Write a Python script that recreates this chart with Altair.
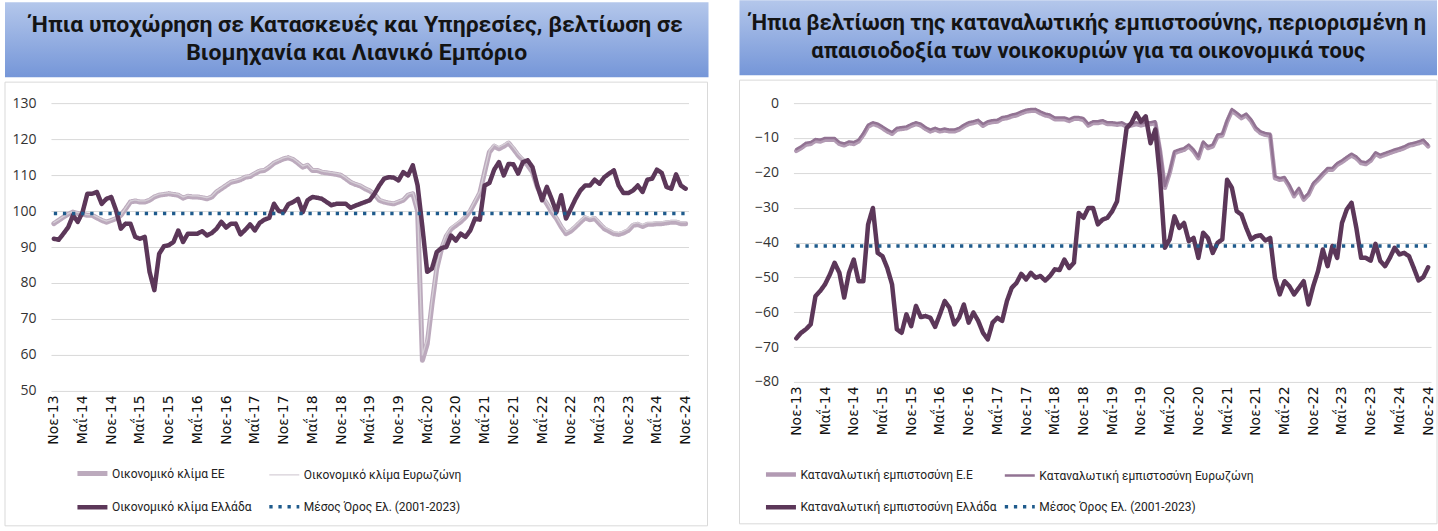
import json
import altair as alt
import pandas as pd

# ---------------- data ----------------
MONTH_TICKS = ["Νοε-13", "Μαΐ-14", "Νοε-14", "Μαΐ-15", "Νοε-15", "Μαΐ-16", "Νοε-16", "Μαΐ-17",
               "Νοε-17", "Μαΐ-18", "Νοε-18", "Μαΐ-19", "Νοε-19", "Μαΐ-20", "Νοε-20", "Μαΐ-21",
               "Νοε-21", "Μαΐ-22", "Νοε-22", "Μαΐ-23", "Νοε-23", "Μαΐ-24", "Νοε-24"]

LEFT_TITLE = ["Ήπια υποχώρηση σε Κατασκευές και Υπηρεσίες, βελτίωση σε",
              "Βιομηχανία και Λιανικό Εμπόριο"]
RIGHT_TITLE = ["Ήπια βελτίωση της καταναλωτικής εμπιστοσύνης, περιορισμένη η",
               "απαισιοδοξία των νοικοκυριών για τα οικονομικά τους"]

LEFT_NAMES = ["Οικονομικό κλίμα ΕΕ", "Οικονομικό κλίμα Ευρωζώνη",
              "Οικονομικό κλίμα Ελλάδα", "Μέσος Όρος Ελ. (2001-2023)"]
RIGHT_NAMES = ["Καταναλωτική εμπιστοσύνη Ε.Ε", "Καταναλωτική εμπιστοσύνη Ευρωζώνη",
               "Καταναλωτική εμπιστοσύνη Ελλάδα", "Μέσος Όρος Ελ. (2001-2023)"]

ESI_EU = [96.5, 97.4, 98.3, 99.1, 99.7, 99.3, 99.1, 98.8, 98.8, 98.1, 97.4, 96.9, 97.4, 97.9, 98.8, 100.6,
          102.5, 102.8, 102.5, 102.5, 103, 103.9, 104.4, 104.6, 104.8, 104.6, 104.4, 103.6, 104.1, 103.9,
          103.9, 103.7, 103.4, 103.9, 105.3, 106.2, 107.1, 108, 108.3, 108.7, 109.4, 109.6, 110.4, 111.1,
          111.3, 112.2, 113.3, 113.9, 114.5, 114.8, 114.3, 113.3, 112.2, 112.7, 111.3, 111.3, 110.8, 110.6,
          110.4, 110.2, 109.9, 109, 108, 107.4,
          107, 106.2, 105.6, 104.6, 103, 102.5, 102.2, 102, 102.5, 103, 104.4, 104.8, 100, 58.5, 63, 74, 84,
          89.5, 93, 95, 96, 97, 98.3, 100, 102.5, 105, 110.8, 116.4, 118, 117.3, 118, 118.9, 117.3, 115.5,
          114.1, 112.7, 110.8, 106.7, 103.9, 102, 99.7, 97.9, 95.6, 93.7, 94.4, 95.6, 96.9, 98.1, 97.6, 97.9,
          96.5, 95.1, 94.4, 93.7, 93.5, 93.9, 94.6, 96, 96.3, 95.7, 96.3, 96.3, 96.5, 96.5, 96.7, 96.9, 96.9,
          96.5, 96.5]
ESI_EZ = [96.8, 97.6, 98.5, 99.3, 99.9, 99.6, 99.3, 99.0, 99.0, 98.4, 97.7, 97.2, 97.6, 98.2, 99.0, 100.9,
          102.8, 103.1, 102.8, 102.8, 103.3, 104.2, 104.7, 104.9, 105.1, 104.9, 104.7, 103.9, 104.4, 104.2,
          104.2, 104.0, 103.7, 104.2, 105.6, 106.5, 107.4, 108.3, 108.6, 109.0, 109.7, 109.9, 110.7, 111.4,
          111.6, 112.5, 113.6, 114.2, 114.8, 115.1, 114.6, 113.6, 112.5, 113.0, 111.6, 111.6, 111.1, 110.9,
          110.7, 110.5, 110.2, 109.3, 108.3, 107.7,
          107.3, 106.5, 105.9, 104.9, 103.3, 102.8, 102.5, 102.3, 102.8, 103.3, 104.7, 105.1, 100.5, 60.0,
          64.5, 75.5, 85.0, 90.3, 93.6, 95.5, 96.5, 97.5, 98.8, 100.5, 103.0, 105.5, 111.3, 116.9, 118.5,
          117.8, 118.5, 119.3, 117.8, 116.0, 114.6, 113.2, 111.3, 107.2, 104.4, 102.5, 100.2, 98.4, 96.1,
          94.2, 94.9, 96.1, 97.4, 98.6, 98.1, 98.4, 97.0, 95.6, 94.9, 94.2, 94.0, 94.4, 95.1, 96.5, 96.8,
          96.2, 96.8, 96.8, 97.0, 97.0, 97.2, 97.4, 97.4, 97.0, 97.0]
ESI_GR = [92.3, 92, 93.7, 95.5, 98.8, 97, 99.7, 104.8, 104.8, 105.3, 102, 103.4, 103.9, 100.2, 95.1, 96.5,
          96.5, 92.8, 92.3, 92.8, 83.1, 78, 88.1, 90.2, 90.5, 91.4, 94.6, 91.4, 93.7, 93.7, 93.7, 94.4, 93.2,
          93.9, 95.1, 97, 95.4, 96.5, 96.5, 93.5, 94.8, 96.3, 94.6, 96.7, 97.6, 98.1, 102, 100, 99.7, 101.9,
          102.5, 103.4, 99.7, 103, 103.9, 103.7, 103.4, 102.5, 101.6, 102, 102, 102, 100.9, 101.5, 102,
          102.5, 103, 104.8, 107.1, 109, 109.4, 109.3, 108.5, 110.8, 109.9, 112.7, 107.1, 95.6, 83.1, 84,
          88.6, 89.7, 90, 93.2, 91.8, 93.7, 92.8, 94.6, 97.9, 97.6, 107.1, 107.8, 111.5, 113.6, 109.9, 113.1,
          113, 110.4, 113.6, 114.1, 112.2, 107.1, 103, 106.7, 103.4, 99.7, 104.4, 97.9, 100.6, 103.4, 105.7,
          107.1, 107.1, 108.7, 107.6, 109.4, 110.4, 111.3, 107.1, 105, 105, 105.7, 107.1, 105.3, 108.7, 109,
          111.5, 110.6, 106.7, 106.2, 110.2, 107.1, 106.2]
ESI_AVG = 99.3

CC_EU = [-13.7, -12.9, -11.9, -11.7, -10.8, -11, -10.5, -10.5, -10.5, -11.7, -12.1, -11.5, -11.7, -11, -9.1,
         -6.7, -6, -6.4, -7.2, -8.1, -8.8, -7.6, -7.4, -7.2, -6.5, -6, -6.4, -7.4, -8.1, -7.6, -8.1, -7.8,
         -8.1, -8.1, -7.6, -6.7, -6, -5.7, -5.3, -6.5, -5.7, -5.4, -5.3, -4.5, -4.3, -3.8, -3.5, -2.9, -2.4,
         -2.2, -2.2, -2.9, -3.5, -3.8, -4.6, -4.6, -4.6, -5.1, -4.5, -4.5,
         -4.8, -6.4, -5.7, -5.7, -5.4, -6, -6, -6.2, -6, -6.7, -6.4, -6, -6.4, -6, -6, -5.7, -13.8, -24.3,
         -20, -14.3, -13.8, -13.4, -12.4, -13.8, -15.8, -11.5, -12.9, -12.4, -9.5, -9.3, -5.3, -2.2, -3.2,
         -4.3, -3.5, -5.1, -7.4, -8.6, -9.1, -9.3, -21.5, -22, -21.7, -23.9, -26.7, -24.8, -27.7, -26.3,
         -23.4, -22, -20.5, -19.1, -19.1, -17.7, -16.9, -15.9, -15, -15.8, -17.2, -17.5, -16.5, -14.6,
         -15.3, -14.8, -14.3, -13.8, -13.4, -12.9, -12.2, -11.9, -11.5, -11, -12.4]
CC_EZ = [-13.2, -12.4, -11.4, -11.2, -10.3, -10.5, -10.0, -10.0, -10.0, -11.2, -11.6, -11.0, -11.2, -10.5,
         -8.6, -6.2, -5.5, -5.9, -6.7, -7.6, -8.3, -7.1, -6.9, -6.7, -6.0, -5.5, -5.9, -6.9, -7.6, -7.1,
         -7.6, -7.3, -7.6, -7.6, -7.1, -6.2, -5.5, -5.2, -4.8, -6.0, -5.2, -4.9, -4.8, -4.0, -3.8, -3.3,
         -3.0, -2.4, -1.9, -1.7, -1.7, -2.4, -3.0, -3.3, -4.1, -4.1, -4.1, -4.6, -4.0, -4.0,
         -4.3, -5.9, -5.2, -5.2, -4.9, -5.5, -5.5, -5.7, -5.5, -6.2, -5.9, -5.5, -5.9, -5.5, -5.5, -5.2,
         -13.3, -23.8, -19.5, -13.8, -13.3, -12.9, -11.9, -13.3, -15.3, -11.0, -12.4, -11.9, -9.0, -8.8,
         -4.8, -1.7, -2.7, -3.8, -3.0, -4.6, -6.9, -8.1, -8.6, -8.8, -21.0, -21.5, -21.2, -23.4, -26.2,
         -24.3, -27.2, -25.8, -22.9, -21.5, -20.0, -18.6, -18.6, -17.2, -16.4, -15.4, -14.5, -15.3, -16.7,
         -17.0, -16.0, -14.1, -14.8, -14.3, -13.8, -13.3, -12.9, -12.4, -11.7, -11.4, -11.0, -10.5, -11.9]
CC_GR = [-67.5, -65.9, -64.9, -63.5, -55.4, -53.9, -52, -49.2, -45.8, -48.7, -55.8, -48.7, -44.9, -51.1,
         -51.1, -34.8, -30.1, -43, -43.9, -47.3, -52, -64.9, -65.9, -60.6, -64, -58.2, -61.4, -61.1, -61.6,
         -64.2, -60.6, -56.8, -58.7, -63.5, -61.6, -57.8, -63, -60.1, -62.5, -65.9, -67.8, -63, -61.6,
         -62.5, -56.8, -53, -51.6, -49, -50.6, -48.7, -50.1, -49.6, -50.9, -49.6, -47.7, -47.9, -44.9,
         -47.3, -45.8, -31.5,
         -32.9, -30.1, -30.1, -34.8, -33.4, -32.9, -31, -28.2, -17.7, -7.2, -5.7, -2.9, -5.3, -3.8, -11.5,
         -7.6, -21.5, -41.5, -39.1, -32.5, -35.8, -34.4, -39.6, -38.7, -44.4, -37.2, -38.7, -43, -40.1,
         -39.1, -22, -24.3, -31, -32, -35.8, -39.1, -38.2, -37.9, -39.4, -38.7, -50.1, -54.9, -51.1, -52.5,
         -54.9, -53, -51.1, -57.8, -52.5, -48.2, -42, -46.8, -41, -44.4, -34.4, -30.5, -28.6, -35.8, -44.4,
         -44.4, -45.2, -40.4, -45.3, -46.8, -44.4, -41.5, -43.4, -43, -43.9, -47.3, -50.9, -49.9, -47.1]
CC_AVG = -41.0

N = len(ESI_GR)
LABEL_EXPR = json.dumps(MONTH_TICKS, ensure_ascii=False) + "[round(datum.value / 6)]"

TITLE_FONT = "Roboto"
TEXT_FONT = "Roboto"


def panel(names, series, avg, colors, widths, ydomain, ystep, W, H,
          banner, box, title, title_size, title_y, legend_x, legend_y, col_pad):
    rows = []
    for name, vals in zip(names[:3], series):
        for i, v in enumerate(vals):
            rows.append({"i": i, "v": v, "s": name})
    for i in range(N):
        rows.append({"i": i, "v": avg, "s": names[3]})
    df = pd.DataFrame(rows)

    legend = alt.Legend(title=None, orient="none", legendX=legend_x, legendY=legend_y,
                        direction="horizontal", columns=2, symbolType="stroke", symbolSize=900,
                        padding=0, labelFont=TEXT_FONT, labelFontSize=12, labelColor="#222222",
                        labelLimit=400, labelOffset=2, columnPadding=col_pad, rowPadding=6)
    dashes = [[1, 0], [1, 0], [1, 0], [3.3, 5.8]]
    enc = dict(
        x=alt.X("i:Q", scale=alt.Scale(domain=[-0.6, N - 1 + 0.6], nice=False, zero=False),
                axis=alt.Axis(values=list(range(0, N, 6)), labelExpr=LABEL_EXPR, labelAngle=270,
                              title=None, grid=False, domain=False, ticks=False, labelPadding=4,
                              labelFont="DejaVu Sans", labelFontSize=14, labelColor="#111111")),
        y=alt.Y("v:Q", scale=alt.Scale(domain=ydomain, nice=False, zero=False),
                axis=alt.Axis(values=list(range(ydomain[0], ydomain[1] + 1, ystep)), title=None,
                              grid=True, gridColor="#d9d9d9", domain=False, ticks=False,
                              labelPadding=15, labelFont="Open Sans", labelFontSize=14,
                              labelColor="#333333")),
        color=alt.Color("s:N", scale=alt.Scale(domain=names, range=colors), legend=legend),
        strokeWidth=alt.StrokeWidth("s:N", scale=alt.Scale(type="ordinal", domain=names, range=widths),
                                    legend=legend),
        strokeDash=alt.StrokeDash("s:N", scale=alt.Scale(domain=names, range=dashes), legend=legend),
    )

    one = alt.Data(values=[{}])
    bx0, bx1, by0, by1 = banner
    banner_rect = alt.Chart(one).mark_rect(
        fill=alt.Gradient(gradient="linear",
                          stops=[alt.GradientStop(color="#b4c7eb", offset=0),
                                 alt.GradientStop(color="#7596d8", offset=1)],
                          x1=0, x2=0, y1=0, y2=1)
    ).encode(x=alt.value(bx0), x2=alt.value(bx1), y=alt.value(by0), y2=alt.value(by1))
    title_text = alt.Chart(one).mark_text(
        font=TITLE_FONT, fontSize=title_size, fontWeight="bold", align="center", baseline="top",
        lineHeight=28, color="#141414"
    ).encode(x=alt.value((bx0 + bx1) / 2), y=alt.value(title_y), text=alt.value(title))
    kx0, kx1, ky0, ky1 = box
    border = alt.Chart(one).mark_rect(fill="white", fillOpacity=0, stroke="#d9d9d9",
                                      strokeWidth=1).encode(
        x=alt.value(kx0), x2=alt.value(kx1), y=alt.value(ky0), y2=alt.value(ky1))

    base = alt.Chart(df)
    layers = []
    for name in names:
        layers.append(
            base.transform_filter(alt.datum.s == name)
            .mark_line(strokeJoin="round", strokeCap="butt" if name == names[3] else "round")
            .encode(**enc)
        )
    return alt.layer(border, banner_rect, title_text, *layers).properties(width=W, height=H)


left = panel(LEFT_NAMES, [ESI_EU, ESI_EZ, ESI_GR], ESI_AVG,
             ["#bcaabd", "#d6cfd7", "#5c3759", "#1f5b8c"], [5, 1.3, 4.5, 3.5],
             [50, 130], 10, 638, 288,
             banner=(-46, 658, -101, -26), box=(-46, 657, -21, 423),
             title=LEFT_TITLE, title_size=23, title_y=-89, legend_x=24, legend_y=353, col_pad=10)

right = panel(RIGHT_NAMES, [CC_EU, CC_EZ, CC_GR], CC_AVG,
              ["#b29ab3", "#927393", "#5c3759", "#1f5b8c"], [4.5, 2.5, 4.5, 3.5],
              [-80, 0], 10, 638, 279,
              banner=(-54, 644, -103, -28), box=(-54, 644, -23, 421),
              title=RIGHT_TITLE, title_size=22, title_y=-90, legend_x=-30, legend_y=354, col_pad=0)

chart = alt.hconcat(left, right, spacing=30).resolve_scale(
    color="independent", strokeWidth="independent", strokeDash="independent",
    x="independent", y="independent"
).resolve_legend(color="independent", strokeWidth="independent", strokeDash="independent").properties(
    padding={"left": 4, "top": 0, "right": 0, "bottom": 0},
    background="white"
).configure_view(stroke=None)

chart.save("out.html", embed_options={"renderer": "svg", "actions": False})
